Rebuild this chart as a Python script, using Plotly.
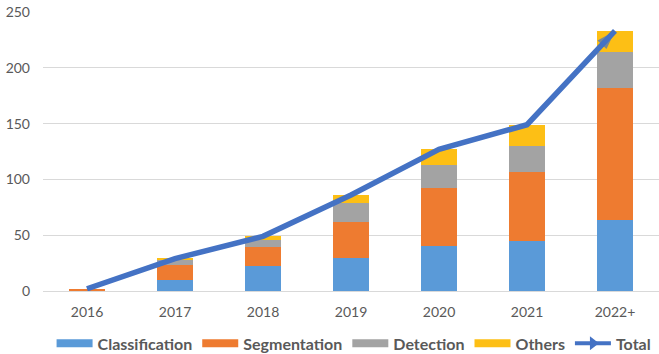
import plotly.graph_objects as go

# Publications per year, split by task
years = ["2016", "2017", "2018", "2019", "2020", "2021", "2022+"]
classification = [0, 10, 22, 30, 40, 45, 64]
segmentation = [2, 13, 17, 32, 52, 62, 118]
detection = [0, 5, 7, 17, 21, 23, 32]
others = [0, 1, 3, 7, 14, 19, 19]
total = [c + s + d + o for c, s, d, o in zip(classification, segmentation, detection, others)]

series_names = ["Classification", "Segmentation", "Detection", "Others"]
series_values = [classification, segmentation, detection, others]
series_colors = ["#5A9AD8", "#EE7B30", "#A3A3A3", "#FDBF15"]
line_color = "#4472C4"
text_color = "#595959"
font_family = "Lato, 'Open Sans', sans-serif"

fig = go.Figure()

for name, vals, col in zip(series_names, series_values, series_colors):
    fig.add_trace(go.Bar(
        x=years, y=vals, name=name, showlegend=False,
        marker=dict(color=col, line=dict(width=0)),
    ))

# Total line with an arrow head on the final point
symbols = ["circle"] * (len(years) - 1) + ["arrow"]
sizes = [0] * (len(years) - 1) + [20]
fig.add_trace(go.Scatter(
    x=years, y=total, name="Total", mode="lines+markers", showlegend=False,
    line=dict(color=line_color, width=5.5),
    marker=dict(symbol=symbols, size=sizes, angleref="previous", color=line_color,
                line=dict(width=0)),
))

# Legend entries drawn as wide swatches
for name, col in zip(series_names, series_colors):
    fig.add_trace(go.Scatter(
        x=[None], y=[None], name=name, mode="lines",
        line=dict(color=col, width=8),
    ))
fig.add_trace(go.Scatter(
    x=[None], y=[None], name="Total", mode="lines+markers",
    line=dict(color=line_color, width=4),
    marker=dict(symbol="triangle-right", size=12, color=line_color),
))

fig.update_layout(
    width=659, height=354,
    margin=dict(l=43, r=0, t=12, b=63),
    paper_bgcolor="white", plot_bgcolor="white",
    barmode="stack", bargap=0.6,
    font=dict(family=font_family, color=text_color, size=13),
    legend=dict(
        orientation="h", x=0.505, xanchor="center",
        y=0.03, yref="container", yanchor="middle",
        font=dict(size=16, color=text_color, family=font_family, weight="bold"),
        itemwidth=36, traceorder="normal",
    ),
)
fig.update_xaxes(
    type="category", showgrid=False, showline=True, linecolor="#D9D9D9", linewidth=1,
    ticks="", ticklabelstandoff=8, tickfont=dict(size=14, color=text_color),
)
fig.update_yaxes(
    range=[0, 250], dtick=50, showgrid=True, gridcolor="#D9D9D9", gridwidth=1,
    zeroline=False, showline=False, ticks="", ticklabelstandoff=12,
    tickfont=dict(size=14, color=text_color),
)

fig.write_html("out.html")
